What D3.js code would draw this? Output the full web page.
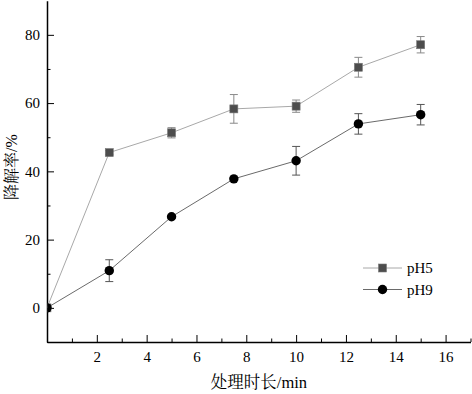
<!DOCTYPE html>
<html>
<head>
<meta charset="utf-8">
<script src="https://cdn.jsdelivr.net/npm/d3@7"></script>
<style>
  body { margin: 0; background: #fff; }
  svg { display: block; }
</style>
</head>
<body>
<svg id="chart"></svg>
<script>
// data
const times = [0, 2.5, 5, 7.5, 10, 12.5, 15]
const ph5 = [0, 45.5, 51.3, 58.3, 59.1, 70.5, 77.1]
const ph5Err = [0, 0.6, 1.5, 4.2, 1.8, 2.9, 2.4]
const ph9 = [0, 10.9, 26.7, 37.8, 43.1, 53.9, 56.6]
const ph9Err = [0, 3.2, 0.4, 0.4, 4.2, 3.0, 3.0]
const xTicks = [2, 4, 6, 8, 10, 12, 14, 16]
const yTicks = [0, 20, 40, 60, 80]
const seriesNames = ["pH5", "pH9"]

const width = 472
const height = 394
const serif = "Tinos, 'Liberation Serif', LiberationSerif, 'Times New Roman', 'DejaVu Serif', 'Noto Serif', FreeSerif, serif"
const cjk = "'Noto Serif CJK SC', 'Noto Sans CJK SC', sans-serif"

let svg = d3.select("#chart")
    .attr("width", width)
    .attr("height", height)

let x = d3.scaleLinear()
    .domain([0, 17])
    .range([47, 470.5])

let y = d3.scaleLinear()
    .domain([-10, 90])
    .range([342, 0.7])

// clip to plot area (first point sits on the axis and is half hidden)
svg.append("clipPath")
    .attr("id", "plot-clip")
    .append("rect")
    .attr("x", 47.5)
    .attr("y", 0)
    .attr("width", width)
    .attr("height", 342)

// minor ticks
let minorX = d3.range(1, 18, 2)
let minorY = [-10, 10, 30, 50, 70]

svg.append("g")
    .attr("transform", "translate(0,342)")
    .call(d3.axisBottom(x).tickValues(minorX).tickSize(-3.5).tickFormat(""))
    .call(g => g.select(".domain").remove())
    .call(g => g.selectAll("line").attr("stroke", "#000"))

svg.append("g")
    .attr("transform", "translate(47,0)")
    .call(d3.axisLeft(y).tickValues(minorY).tickSize(-3.5).tickFormat(""))
    .call(g => g.select(".domain").remove())
    .call(g => g.selectAll("line").attr("stroke", "#000"))

// x-axis
svg.append("g")
    .attr("class", "x-axis")
    .attr("transform", "translate(0,342)")
    .attr("font-family", null)
    .call(d3.axisBottom(x).tickValues(xTicks).tickSize(-7).tickPadding(9).tickSizeOuter(0))
    .call(g => g.select(".domain").attr("stroke", "#000").attr("stroke-width", 1.5))
    .call(g => g.selectAll("line").attr("stroke", "#000"))
    .call(g => g.selectAll("text").style("font-family", serif).style("font-size", "15px"))

// y-axis
svg.append("g")
    .attr("class", "y-axis")
    .attr("transform", "translate(47,0)")
    .call(d3.axisLeft(y).tickValues(yTicks).tickSize(-7).tickPadding(7).tickSizeOuter(0))
    .call(g => g.select(".domain").attr("stroke", "#000").attr("stroke-width", 1.5))
    .call(g => g.selectAll("line").attr("stroke", "#000"))
    .call(g => g.selectAll("text").style("font-family", serif).style("font-size", "15px"))

// axis titles: Chinese part in CJK font, latin part in serif
let xTitle = svg.append("text")
    .attr("x", 259)
    .attr("y", 388)
    .attr("text-anchor", "middle")
    .style("font-size", "16.5px")
xTitle.append("tspan").style("font-family", cjk).text("处理时长")
xTitle.append("tspan").style("font-family", serif).text("/min")

let yTitle = svg.append("text")
    .attr("transform", "translate(17,167) rotate(-90)")
    .attr("text-anchor", "middle")
    .style("font-size", "16px")
yTitle.append("tspan").style("font-family", cjk).text("降解率")
yTitle.append("tspan").style("font-family", serif).text("/%")

let plot = svg.append("g").attr("clip-path", "url(#plot-clip)")

let styles = [
    { values: ph5, errs: ph5Err, line: "#a8a8a8", err: "#8a8a8a", shape: "square" },
    { values: ph9, errs: ph9Err, line: "#6a6a6a", err: "#555", shape: "circle" }
]

let line = d3.line()
    .x(d => x(d[0]))
    .y(d => y(d[1]))

styles.forEach(s => {
    let pts = times.map((t, i) => [t, s.values[i], s.errs[i]])
    let g = plot.append("g")

    g.append("path")
        .datum(pts)
        .attr("fill", "none")
        .attr("stroke", s.line)
        .attr("stroke-width", 1)
        .attr("d", line)

    // error bars
    let eb = g.selectAll(".err")
        .data(pts.filter(d => d[2] > 0))
        .join("g")
        .attr("stroke", s.err)
        .attr("stroke-width", 1)
    eb.append("line")
        .attr("x1", d => x(d[0])).attr("x2", d => x(d[0]))
        .attr("y1", d => y(d[1] - d[2])).attr("y2", d => y(d[1] + d[2]))
    eb.append("line")
        .attr("x1", d => x(d[0]) - 4).attr("x2", d => x(d[0]) + 4)
        .attr("y1", d => y(d[1] + d[2])).attr("y2", d => y(d[1] + d[2]))
    eb.append("line")
        .attr("x1", d => x(d[0]) - 4).attr("x2", d => x(d[0]) + 4)
        .attr("y1", d => y(d[1] - d[2])).attr("y2", d => y(d[1] - d[2]))

    if (s.shape == "square") {
        g.selectAll(".mk")
            .data(pts)
            .join("rect")
            .attr("x", d => x(d[0]) - 4)
            .attr("y", d => y(d[1]) - 4)
            .attr("width", 8)
            .attr("height", 8)
            .attr("fill", "#4d4d4d")
            .attr("stroke", "#777")
            .attr("stroke-width", 0.6)
    } else {
        g.selectAll(".mk")
            .data(pts)
            .join("circle")
            .attr("cx", d => x(d[0]))
            .attr("cy", d => y(d[1]))
            .attr("r", 4.7)
            .attr("fill", "#000")
    }
})

// legend
let legend = svg.append("g").attr("transform", "translate(363,268)")
seriesNames.forEach((name, i) => {
    let s = styles[i]
    let row = legend.append("g").attr("transform", "translate(0," + (i * 21.5) + ")")
    row.append("line")
        .attr("x1", 0).attr("x2", 39)
        .attr("stroke", s.line)
        .attr("stroke-width", 1)
    if (s.shape == "square") {
        row.append("rect")
            .attr("x", 15.5).attr("y", -4)
            .attr("width", 8).attr("height", 8)
            .attr("fill", "#4d4d4d")
            .attr("stroke", "#777")
            .attr("stroke-width", 0.6)
    } else {
        row.append("circle")
            .attr("cx", 19.5).attr("r", 4.7)
            .attr("fill", "#000")
    }
    row.append("text")
        .attr("x", 44)
        .attr("dy", "0.35em")
        .style("font-family", serif)
        .style("font-size", "15px")
        .text(name)
})
</script>
</body>
</html>
